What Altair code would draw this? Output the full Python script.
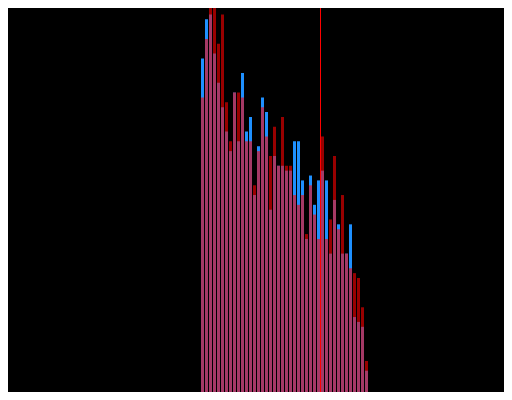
import altair as alt
import pandas as pd

# histogram bin index (bar order, left to right)
bins = list(range(42))
# counts
blue_counts = [70, 78, 79, 71, 65, 60, 55, 51, 63, 53, 67, 55, 58, 42, 52, 62, 59, 39, 50, 48, 48,
               47, 47, 53, 53, 45, 33, 46, 40, 45, 47, 45, 30, 41, 36, 30, 30, 36, 17, 16, 15, 6]
red_counts = [62, 74, 86, 84, 73, 79, 61, 53, 63, 63, 62, 53, 53, 44, 51, 60, 54, 50, 56, 48, 58,
              48, 48, 42, 40, 42, 34, 44, 38, 33, 54, 33, 37, 50, 35, 42, 30, 27, 26, 25, 19, 8]
marker_value = [29.875]

df = pd.DataFrame({"bin": bins, "blue": blue_counts, "red": red_counts})
df["bin_end"] = df["bin"] + 0.75
mdf = pd.DataFrame({"m": marker_value})

xs = alt.Scale(domain=[-48.25, 75.75], nice=False, zero=False)
ys = alt.Scale(domain=[1.64, 80.33], nice=False, zero=False)

base = alt.Chart(df)
blue = base.mark_bar(color="#1e90ff", clip=True).encode(
    x=alt.X("bin:Q", scale=xs, axis=None),
    x2="bin_end:Q",
    y=alt.Y("blue:Q", scale=ys, axis=None),
    y2=alt.datum(0),
)
red = base.mark_bar(color="#ff0000", opacity=0.6, clip=True).encode(
    x=alt.X("bin:Q", scale=xs, axis=None),
    x2="bin_end:Q",
    y=alt.Y("red:Q", scale=ys, axis=None),
    y2=alt.datum(0),
)
line = alt.Chart(mdf).mark_rule(color="#ff0000", strokeWidth=1, opacity=1).encode(
    x=alt.X("m:Q", scale=xs, axis=None)
)

chart = alt.layer(blue, red, line).properties(
    width=496,
    height=384,
    background="black",
    padding=0,
    autosize=alt.AutoSizeParams(type="none"),
).configure_view(stroke=None)

chart.save("out.html", embed_options={"renderer": "svg", "actions": False})
